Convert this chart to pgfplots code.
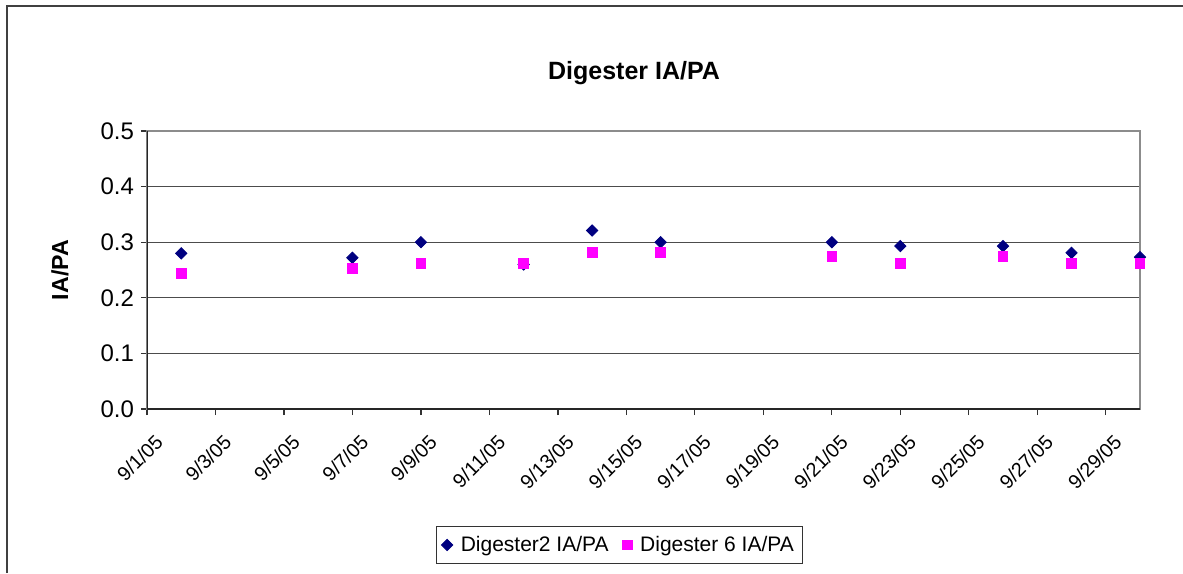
\documentclass[border=0pt]{standalone}
\usepackage{pgfplots}
\pgfplotsset{compat=1.18}
\usepackage{fontspec}
\setmainfont{Liberation Sans}
\definecolor{dnavy}{RGB}{0,0,128}
\definecolor{dmag}{RGB}{255,0,255}
\begin{document}
\begin{tikzpicture}
% 1 px of the reference = 0.5pt
\path[use as bounding box] (0,0) rectangle (591.5pt,286.5pt);
\draw[line width=1.2pt, black!75] (3.6pt,0) -- (3.6pt,283.5pt) -- (591.5pt,283.5pt);
\node[font=\fontsize{12.5}{14}\selectfont\bfseries] at (317pt,250pt) {Digester IA/PA};
\begin{axis}[
    at={(73.5pt,82pt)}, anchor=south west,
    scale only axis,
    width=496.5pt, height=139pt,
    xmin=0, xmax=29,
    ymin=0, ymax=0.5,
    xtick={0,2,...,28},
    xticklabels={9/1/05,9/3/05,9/5/05,9/7/05,9/9/05,9/11/05,9/13/05,9/15/05,9/17/05,9/19/05,9/21/05,9/23/05,9/25/05,9/27/05,9/29/05},
    ytick={0,0.1,...,0.5},
    yticklabel style={/pgf/number format/fixed,/pgf/number format/fixed zerofill,/pgf/number format/precision=1,font=\fontsize{12}{14}\selectfont},
    /pgf/number format/assume math mode=true,
    xticklabel style={rotate=45, anchor=north east, font=\fontsize{9.9}{11}\selectfont, xshift=-0.5pt, yshift=-5.5pt},
    tick align=outside,
    major tick length=3pt,
    xtick pos=bottom, ytick pos=left,
    tick style={black!80, line width=0.6pt},
    ymajorgrids,
    grid style={black!70, line width=0.6pt},
    axis line style={black!45, line width=0.7pt},
    ylabel={\textbf{IA/PA}},
    ylabel style={font=\fontsize{11.6}{13}\selectfont, at={(axis description cs:-0.0876,0.5)}, anchor=center},
    legend columns=2,
    legend style={at={(0.476,-0.489)}, anchor=center, draw=black!80, font=\fontsize{10.5}{12}\selectfont, inner sep=2.5pt,
        /tikz/every odd column/.append style={column sep=2pt},
        /tikz/every even column/.append style={column sep=5pt}},
    legend cell align=left,
]
\draw[black!85, line width=0.9pt] (rel axis cs:0,0) -- (rel axis cs:1,0);
\draw[black!85, line width=0.9pt] (rel axis cs:0,0) -- (rel axis cs:0,1);
\addplot[only marks, mark=square*, mark size=2pt, mark options={rotate=45}, color=dnavy] coordinates {
    (1,0.28)(6,0.272)(8,0.30)(11,0.26)(13,0.321)(15,0.30)(20,0.30)(22,0.293)(25,0.293)(27,0.281)(29,0.273)
};
\addplot[only marks, mark=square*, mark size=2.4pt, color=dmag] coordinates {
    (1,0.244)(6,0.253)(8,0.262)(11,0.262)(13,0.282)(15,0.282)(20,0.274)(22,0.262)(25,0.274)(27,0.262)(29,0.262)
};
\legend{Digester2 IA/PA, Digester 6 IA/PA}
\end{axis}
\end{tikzpicture}
\end{document}
